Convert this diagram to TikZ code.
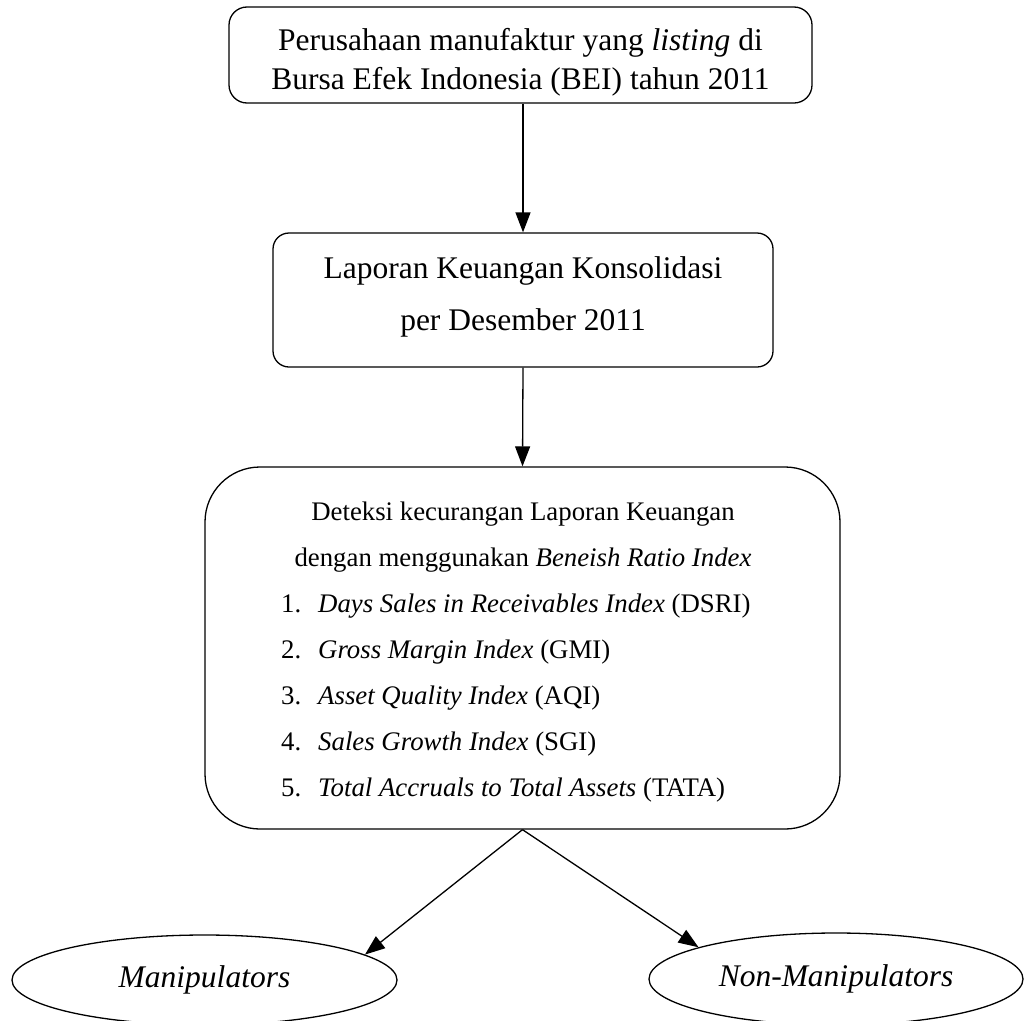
\documentclass[tikz,border=0pt]{standalone}
\usepackage{fontspec}
\setmainfont{Liberation Serif}
\usetikzlibrary{arrows.meta,shapes.geometric}
\begin{document}
\begin{tikzpicture}[x=1pt,y=-1pt,
  boxline/.style={draw, line width=1.3pt, inner sep=0pt},
  bigfont/.style={font=\fontsize{31.5}{39}\selectfont},
  midfont/.style={font=\fontsize{31.5}{52}\selectfont},
  listfont/.style={font=\fontsize{26.8}{46}\selectfont},
  arr/.style={line width=1.3pt, -{Triangle[length=20pt,width=15pt]}}]
\useasboundingbox (0,0) rectangle (1024,1020);
% boxes
\node[boxline, rounded corners=18pt, minimum width=583pt, minimum height=96pt] (top) at (520.5,55) {};
\node[boxline, rounded corners=16pt, minimum width=500pt, minimum height=134pt] (mid) at (523,300) {};
\node[boxline, rounded corners=55pt, minimum width=635pt, minimum height=362pt] (big) at (522.5,648) {};
\node[boxline, ellipse, minimum width=385pt, minimum height=90pt] (manip) at (204.5,980) {};
\node[boxline, ellipse, minimum width=374pt, minimum height=92pt] (nonmanip) at (836,979) {};
% texts
\node[bigfont, align=center] (toptext) at (520.5,62) {Perusahaan manufaktur yang \textit{listing} di\\Bursa Efek Indonesia (BEI) tahun 2011};
\node[midfont, align=center] (midtext) at (523,297) {Laporan Keuangan Konsolidasi\\per Desember 2011};
\node[listfont, align=center] (bighead) at (523,537) {Deteksi kecurangan Laporan Keuangan\\dengan menggunakan \textit{Beneish Ratio Index}};
\node[listfont, align=left, anchor=west, inner sep=0pt] (biglist) at (281,698) {%
\makebox[37pt][l]{1.}\textit{Days Sales in Receivables Index} (DSRI)\\
\makebox[37pt][l]{2.}\textit{Gross Margin Index} (GMI)\\
\makebox[37pt][l]{3.}\textit{Asset Quality Index} (AQI)\\
\makebox[37pt][l]{4.}\textit{Sales Growth Index} (SGI)\\
\makebox[37pt][l]{5.}\textit{Total Accruals to Total Assets} (TATA)};
\node[bigfont] (maniptext) at (manip.center) {\textit{Manipulators}};
\node[bigfont] (nonmaniptext) at (nonmanip.center) {\textit{Non-Manipulators}};
% connectors
\draw[arr] (top.south -| mid.north) -- (mid.north);
\draw[arr] (mid.south) -- (big.north);
\draw[arr] (big.south) -- (manip.9);
\draw[arr] (big.south) -- (nonmanip.167);
\end{tikzpicture}
\end{document}
